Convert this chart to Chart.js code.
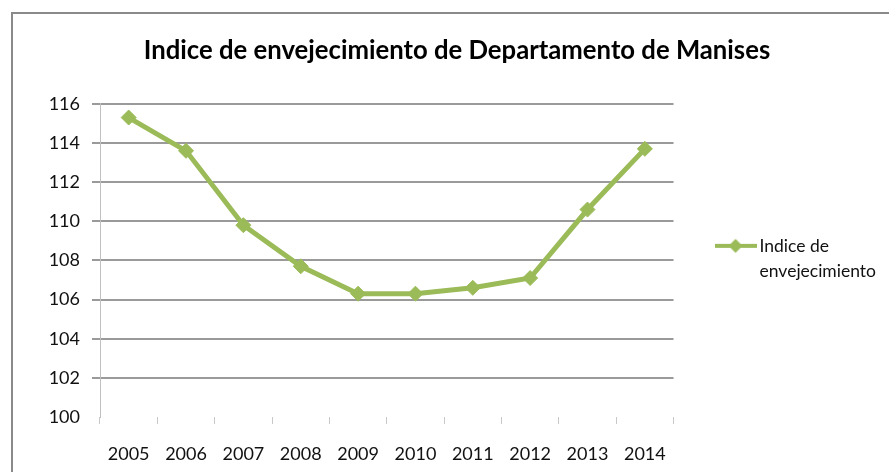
<!DOCTYPE html>
<html>
<head>
<meta charset="utf-8">
<script src="https://cdn.jsdelivr.net/npm/chart.js@4.4.1/dist/chart.umd.min.js"></script>
<style>
  html, body { margin: 0; padding: 0; background: #fff; }
  #wrap { position: relative; width: 889px; height: 472px; overflow: hidden; }
  #frame { position: absolute; left: 11px; top: 12px; right: -10px; bottom: -10px;
           border-left: 2px solid #8a8a8a; border-top: 2px solid #8a8a8a; }
  #chart { position: absolute; left: 0; top: 0; }
</style>
</head>
<body>
<div id="wrap">
  <div id="frame"></div>
  <canvas id="chart" width="889" height="472"></canvas>
</div>
<script>
const years = ['2005', '2006', '2007', '2008', '2009', '2010', '2011', '2012', '2013', '2014'];
const indice = [115.3, 113.6, 109.8, 107.7, 106.3, 106.3, 106.6, 107.1, 110.6, 113.7];
const seriesName = 'Indice de envejecimiento';
const legendLines = ['Indice de', 'envejecimiento'];
const yMin = 100;
const yMax = 116;
const yStep = 2;

const green = '#9bbb59';
const grid = '#9a9a9a';
const font = 'Lato, "Open Sans", sans-serif';

// little legend symbol: line with a diamond on it
const legendMark = document.createElement('canvas');
legendMark.width = 42;
legendMark.height = 16;
(function () {
  const c = legendMark.getContext('2d');
  c.strokeStyle = green;
  c.lineWidth = 4;
  c.beginPath();
  c.moveTo(0, 8);
  c.lineTo(42, 8);
  c.stroke();
  c.fillStyle = green;
  c.beginPath();
  c.moveTo(21, 1);
  c.lineTo(28, 8);
  c.lineTo(21, 15);
  c.lineTo(14, 8);
  c.closePath();
  c.fill();
})();

const padRight = 3;

new Chart(document.getElementById('chart'), {
  type: 'line',
  data: {
    labels: years,
    datasets: [{
      label: seriesName,
      data: indice,
      borderColor: green,
      backgroundColor: green,
      borderWidth: 5,
      pointStyle: 'rectRot',
      pointRadius: 7.5,
      pointBorderWidth: 1,
      pointBackgroundColor: green,
      pointBorderColor: green,
      tension: 0,
      fill: false
    }]
  },
  options: {
    responsive: false,
    animation: false,
    layout: {
      padding: { left: 25 + padRight, right: padRight, top: 0, bottom: 9 }
    },
    plugins: {
      title: {
        display: true,
        text: 'Indice de envejecimiento de Departamento de Manises',
        color: '#000',
        font: { family: font, size: 25.7, weight: 'bold', lineHeight: 1.2 },
        padding: { top: 35, bottom: 38 }
      },
      legend: {
        position: 'right',
        align: 'center',
        // empty title only used as a spacer to move the entry down
        title: { display: true, text: '', font: { size: 12 }, padding: { top: 0, bottom: 47.6 } },
        labels: {
          color: '#111',
          font: { family: font, size: 17.5, lineHeight: 1.45 },
          usePointStyle: true,
          pointStyle: legendMark,
          pointStyleWidth: 30.5,
          padding: 46.75,
          generateLabels: (chart) => Chart.defaults.plugins.legend.labels.generateLabels(chart)
            .map(item => Object.assign(item, { text: legendLines }))
        }
      },
      tooltip: { enabled: false }
    },
    scales: {
      x: {
        offset: true,
        afterFit: (scale) => { scale.height = 46; },
        grid: {
          offset: true,
          drawOnChartArea: false,
          drawTicks: true,
          tickLength: 7,
          color: '#c8c8c8'
        },
        border: { display: false },
        ticks: {
          color: '#111',
          font: { family: font, size: 18 },
          padding: 19,
          maxRotation: 0
        }
      },
      y: {
        min: yMin,
        max: yMax,
        afterFit: (scale) => { scale.width = 75 - padRight; },
        grid: {
          color: (ctx) => ctx.tick && ctx.tick.value === yMin ? 'rgba(0,0,0,0)' : grid,
          lineWidth: 2,
          tickLength: 8
        },
        border: { display: true, color: '#c0c0c0', width: 1 },
        ticks: {
          stepSize: yStep,
          color: '#111',
          font: { family: font, size: 18 },
          padding: 12
        }
      }
    }
  }
});
</script>
</body>
</html>
